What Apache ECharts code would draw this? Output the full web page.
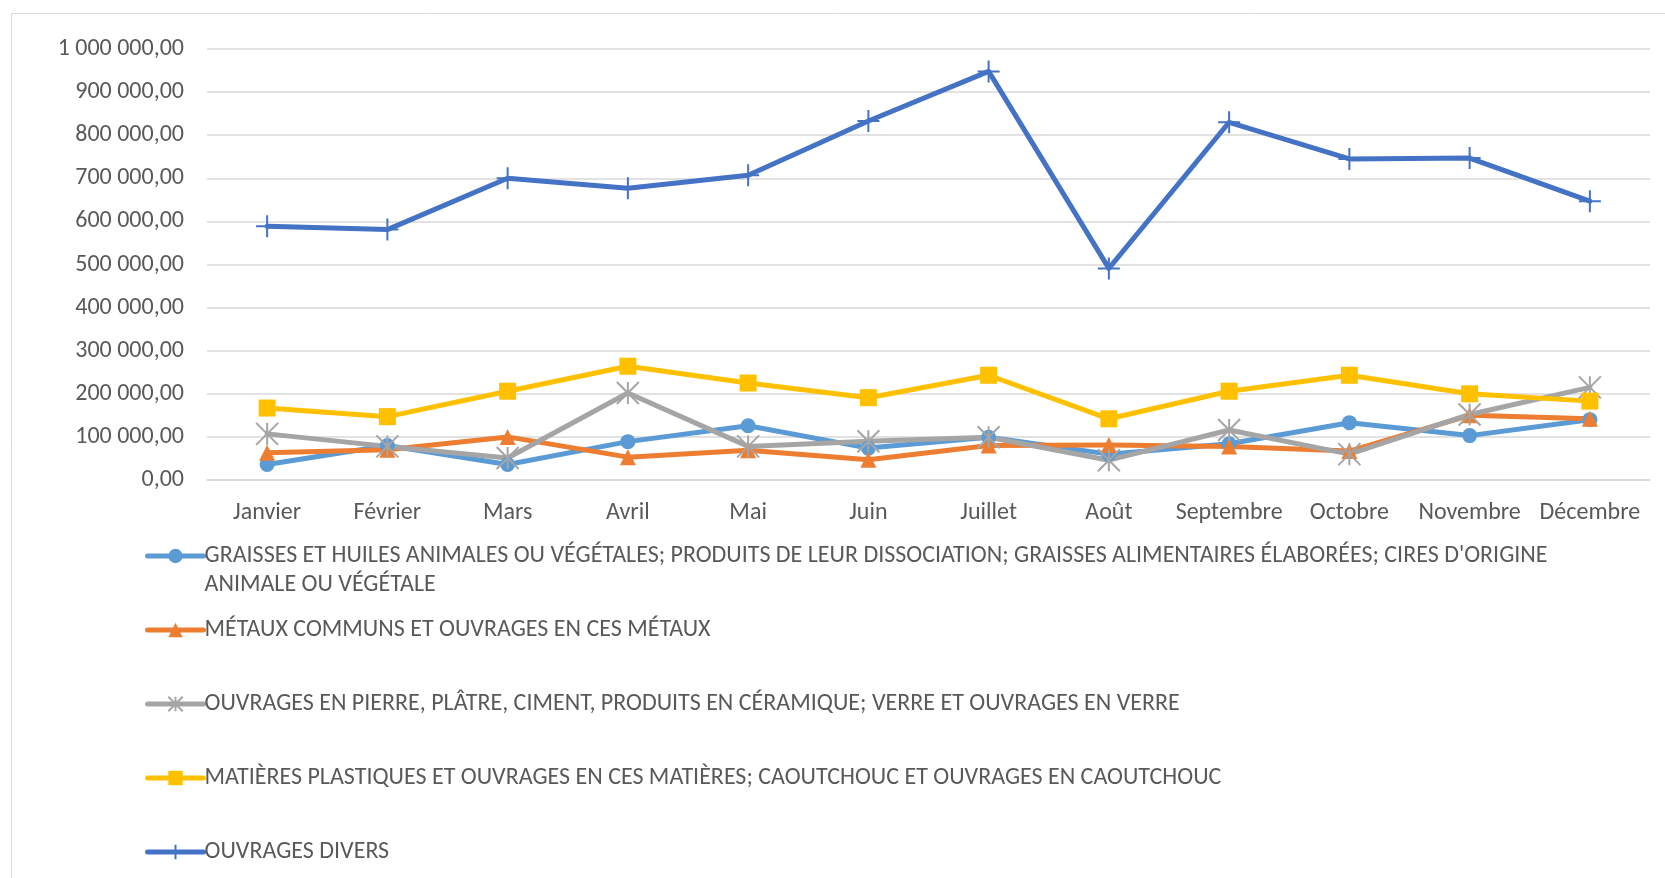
<!DOCTYPE html>
<html>
<head>
<meta charset="utf-8">
<script src="https://cdn.jsdelivr.net/npm/echarts@6/dist/echarts.min.js"></script>
<style>
html,body{margin:0;padding:0;background:#fff;}
#chart{width:1665px;height:878px;}
</style>
</head>
<body>
<div id="chart"></div>
<script>
const months = ['Janvier','Février','Mars','Avril','Mai','Juin','Juillet','Août','Septembre','Octobre','Novembre','Décembre'];
const seriesNames = [
  "GRAISSES ET HUILES ANIMALES OU VÉGÉTALES; PRODUITS DE LEUR DISSOCIATION; GRAISSES ALIMENTAIRES ÉLABORÉES; CIRES D'ORIGINE ANIMALE OU VÉGÉTALE",
  "MÉTAUX COMMUNS ET OUVRAGES EN CES MÉTAUX",
  "OUVRAGES EN PIERRE, PLÂTRE, CIMENT, PRODUITS EN CÉRAMIQUE; VERRE ET OUVRAGES EN VERRE",
  "MATIÈRES PLASTIQUES ET OUVRAGES EN CES MATIÈRES; CAOUTCHOUC ET OUVRAGES EN CAOUTCHOUC",
  "OUVRAGES DIVERS"
];
const graisses  = [36000, 80000, 36000, 89000, 126000, 74000, 99000, 60000, 84000, 133000, 103000, 140000];
const metaux    = [63000, 70000, 100000, 53000, 69000, 47000, 80000, 81000, 78000, 67000, 150000, 142000];
const pierre    = [107000, 78000, 51000, 202000, 78000, 90000, 99000, 46000, 116000, 60000, 152000, 215000];
const plastiques= [167000, 147000, 206000, 264000, 225000, 191000, 243000, 142000, 206000, 243000, 200000, 183000];
const divers    = [589000, 581000, 700000, 677000, 707000, 833000, 948000, 491000, 830000, 745000, 747000, 647000];
const yTicks = {min: 0, max: 1000000, interval: 100000};

const FONT = "Carlito, Calibri, 'Open Sans', sans-serif";
const TXT = '#595959';
const FS = 24;
const colors = ['#5B9BD5', '#ED7D31', '#A5A5A5', '#FFC000', '#4472C4'];
const symbols = ['circle', 'triangle', 'path://M0,0L10,10M10,0L0,10M5,0L5,10', 'rect', 'path://M5,0L5,10M0,5L10,5'];
const symSizes = [15, 16, 22, 17, 22];
const valuesList = [graisses, metaux, pierre, plastiques, divers];

function fmt(v) {
  const s = Math.round(v).toString().replace(/\B(?=(\d{3})+(?!\d))/g, ' ');
  return s + ',00';
}

const series = seriesNames.map((n, i) => {
  const stroked = symbols[i].startsWith('path://');
  return {
    name: n,
    type: 'line',
    data: valuesList[i],
    symbol: symbols[i],
    symbolSize: symSizes[i],
    symbolKeepAspect: true,
    showSymbol: true,
    lineStyle: {color: colors[i], width: 5, cap: 'round', join: 'round'},
    itemStyle: {color: colors[i], borderColor: colors[i], borderWidth: stroked ? 2 : 0},
    emphasis: {disabled: true},
    animation: false
  };
});

const legendIconY = [556, 630, 704, 778, 852];
const LH = 29;
const legends = seriesNames.map((n, i) => ({
  data: [n],
  left: 145,
  top: legendIconY[i] - (i === 0 ? 1.5 * LH : LH / 2),
  padding: 0,
  orient: 'vertical',
  itemWidth: 56,
  itemHeight: 18,
  itemGap: 0,
  selectedMode: false,
  lineStyle: {width: 5, cap: 'round'},
  formatter: name => (i === 0 ? '\n' : '') + name.replace("D'ORIGINE ", "D'ORIGINE\n"),
  textStyle: {
    color: TXT, fontFamily: FONT, fontSize: FS, lineHeight: LH,
    padding: [0, 0, 0, -4]
  }
}));

const chart = echarts.init(document.getElementById('chart'));
chart.setOption({
  backgroundColor: '#fff',
  animation: false,
  graphic: [{
    type: 'rect', left: 9, top: 11, silent: true,
    shape: {x: 0, y: 0, width: 1700, height: 900},
    style: {fill: 'none', stroke: '#D9D9D9', lineWidth: 1}
  }],
  grid: {left: 207, right: 15, top: 49, bottom: 398, containLabel: false},
  legend: legends,
  xAxis: {
    type: 'category',
    data: months,
    boundaryGap: true,
    axisLine: {show: true, lineStyle: {color: '#D9D9D9', width: 1.5}},
    axisTick: {show: false},
    axisLabel: {color: TXT, fontFamily: FONT, fontSize: FS, margin: 21, interval: 0}
  },
  yAxis: {
    type: 'value',
    min: yTicks.min, max: yTicks.max, interval: yTicks.interval,
    axisLine: {show: false},
    axisTick: {show: false},
    splitLine: {lineStyle: {color: '#D9D9D9', width: 1.5}},
    axisLabel: {color: TXT, fontFamily: FONT, fontSize: FS, margin: 23, formatter: fmt}
  },
  series: series
});
</script>
</body>
</html>
